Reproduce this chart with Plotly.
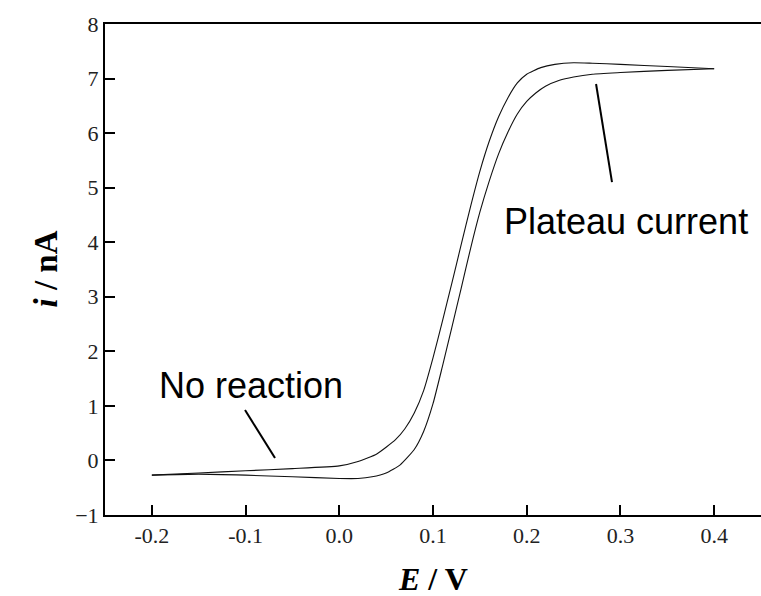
import plotly.graph_objects as go

# Upper branch (left curve, higher current)
E_upper = [-0.200, -0.150, -0.100, -0.050, 0.000, 0.020, 0.040, 0.060, 0.070, 0.080,
           0.090, 0.100, 0.110, 0.120, 0.130, 0.140, 0.150, 0.160, 0.170, 0.180,
           0.190, 0.200, 0.215, 0.230, 0.250, 0.270, 0.300, 0.350, 0.400]
i_upper = [-0.27, -0.23, -0.19, -0.15, -0.10, -0.02, 0.12, 0.38, 0.58, 0.87,
           1.28, 1.88, 2.55, 3.24, 3.95, 4.65, 5.30, 5.85, 6.30, 6.65,
           6.92, 7.08, 7.20, 7.26, 7.29, 7.28, 7.26, 7.22, 7.18]

# Lower branch (right curve, lower current)
E_lower = [-0.200, -0.150, -0.100, -0.050, 0.000, 0.020, 0.035, 0.050, 0.065, 0.080,
           0.090, 0.100, 0.110, 0.120, 0.130, 0.140, 0.150, 0.160, 0.170, 0.180,
           0.190, 0.200, 0.210, 0.220, 0.235, 0.250, 0.270, 0.300, 0.350, 0.400]
i_lower = [-0.27, -0.25, -0.27, -0.30, -0.33, -0.33, -0.30, -0.23, -0.08, 0.20,
           0.53, 1.04, 1.72, 2.43, 3.15, 3.88, 4.55, 5.12, 5.62, 6.02,
           6.35, 6.58, 6.74, 6.86, 6.97, 7.03, 7.08, 7.11, 7.15, 7.18]

x_ticks = [-0.2, -0.1, 0.0, 0.1, 0.2, 0.3, 0.4]
y_ticks = [-1, 0, 1, 2, 3, 4, 5, 6, 7, 8]

fig = go.Figure()
fig.add_trace(go.Scatter(x=E_lower, y=i_lower, mode="lines",
                         line=dict(color="#111111", width=1.1, shape="spline", smoothing=0.5),
                         showlegend=False))
fig.add_trace(go.Scatter(x=E_upper, y=i_upper, mode="lines",
                         line=dict(color="#111111", width=1.1, shape="spline", smoothing=0.5),
                         showlegend=False))

tickfont = dict(family="Liberation Serif, Times New Roman, serif", size=22, color="#222222")

fig.update_xaxes(range=[-0.25, 0.45], tickvals=x_ticks,
                 ticktext=[f"{v:.1f}" for v in x_ticks],
                 ticks="inside", ticklen=10, tickwidth=2, tickcolor="black",
                 showline=True, linewidth=2, linecolor="black", mirror=True,
                 showgrid=False, zeroline=False, tickfont=tickfont)
fig.update_yaxes(range=[-1, 8], tickvals=y_ticks,
                 ticks="inside", ticklen=10, tickwidth=2, tickcolor="black",
                 showline=True, linewidth=2, linecolor="black", mirror=False,
                 showgrid=False, zeroline=False, tickfont=tickfont)

# pointer lines
fig.add_shape(type="line", x0=-0.1006, y0=0.925, x1=-0.0686, y1=0.045,
              line=dict(color="black", width=2))
fig.add_shape(type="line", x0=0.274, y0=6.90, x1=0.291, y1=5.10,
              line=dict(color="black", width=2))

label_font = dict(family="Liberation Sans, Arial, sans-serif", size=36, color="black")
fig.add_annotation(x=-0.094, y=1.365, text="No reaction", showarrow=False,
                   font=label_font, xanchor="center", yanchor="middle")
fig.add_annotation(x=0.306, y=4.38, text="Plateau current", showarrow=False,
                   font=label_font, xanchor="center", yanchor="middle")

title_font = dict(family="Liberation Serif, Times New Roman, serif", size=32, color="black")
fig.add_annotation(x=0.5, y=(515 - 579) / 491, xref="paper", yref="paper",
                   text="<b><i>E</i> / V</b>", showarrow=False, font=title_font,
                   xanchor="center", yanchor="middle")
fig.add_annotation(x=(45 - 105) / 656, y=0.5, xref="paper", yref="paper",
                   text="<b><i>i</i> / nA</b>", showarrow=False, font=dict(title_font, size=33),
                   textangle=-90, xanchor="center", yanchor="middle")

fig.update_layout(width=761, height=596, autosize=False,
                  margin=dict(l=105, r=0, t=24, b=81),
                  plot_bgcolor="white", paper_bgcolor="white")

fig.write_html("out.html")
